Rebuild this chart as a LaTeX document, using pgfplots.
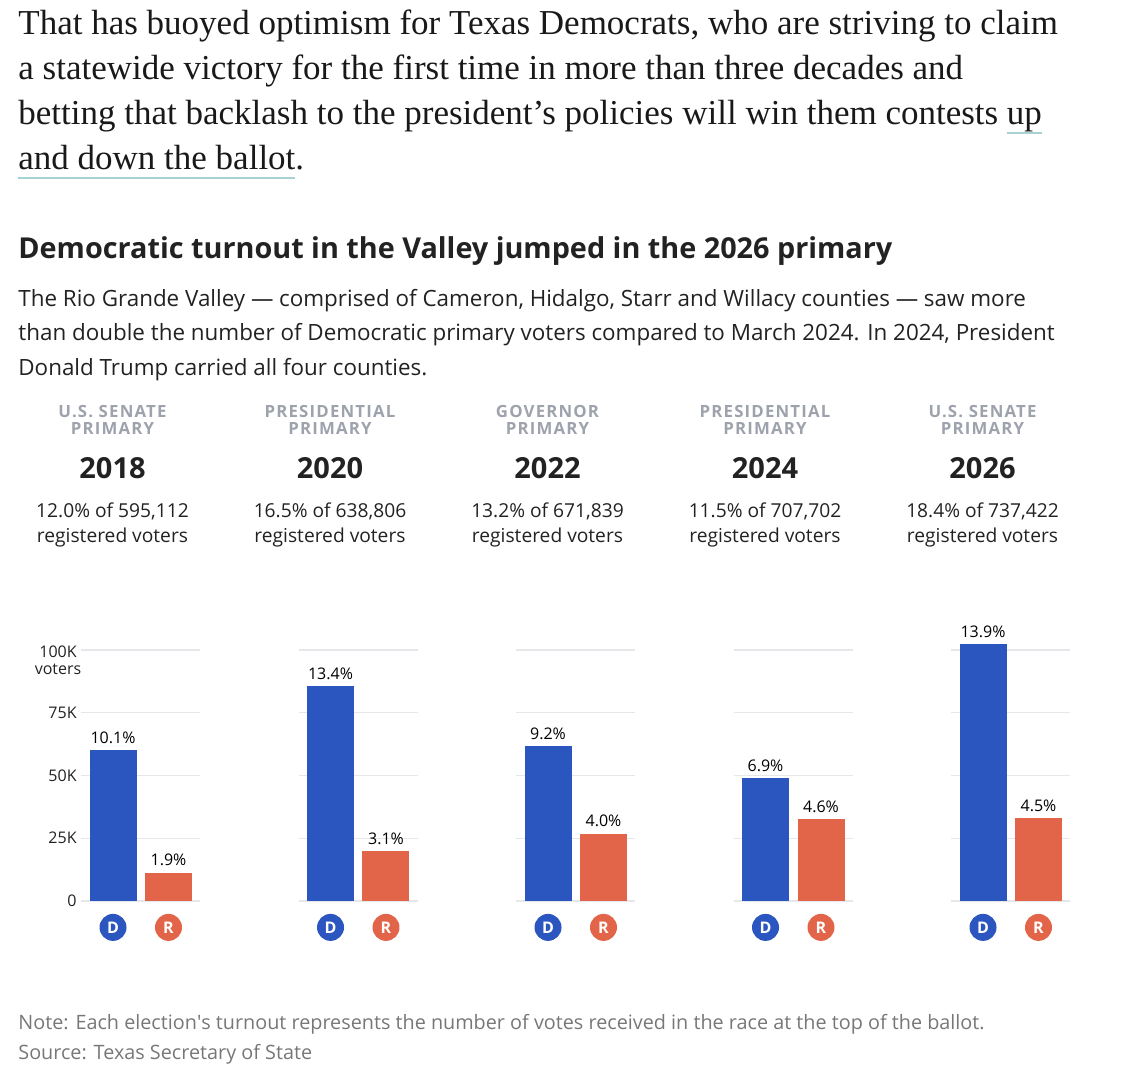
\documentclass[border=0pt]{standalone}
\usepackage{fontspec}
\setmainfont{Open Sans}
\newfontfamily\serif{Liberation Serif}
\usepackage{pgfplots}
\pgfplotsset{compat=1.18}

\definecolor{dem}{HTML}{2B55BF}
\definecolor{rep}{HTML}{E2654A}
\definecolor{hdgray}{HTML}{9EA2AC}
\definecolor{gridc}{HTML}{E6E7EA}
\definecolor{txt}{HTML}{222222}
\definecolor{notec}{HTML}{777777}
\definecolor{ulc}{HTML}{A6D2D2}

% party badge used as x tick label
\newcommand\pty[2]{\tikz\node[circle,fill=#1,text=white,inner sep=0pt,minimum size=13.5pt,anchor=center,
  font=\bfseries\fontsize{8}{8}\selectfont]{#2};}
% underline in link colour
\newcommand\ul[1]{\setbox0\hbox{#1}\rlap{\color{ulc}\rule[-4.5pt]{\wd0}{1pt}}\box0}

% panel header: x, line1, line2, year, share, registered
\newcommand\header[6]{%
  \node[anchor=base,text=hdgray,font=\bfseries\fontsize{8.4}{8.4}\selectfont\addfontfeature{LetterSpace=7}] at (#1,650) {#2};
  \node[anchor=base,text=hdgray,font=\bfseries\fontsize{8.4}{8.4}\selectfont\addfontfeature{LetterSpace=7}] at (#1,633) {#3};
  \node[anchor=base,text=txt,font=\bfseries\fontsize{14.5}{14.5}\selectfont] at (#1,589) {#4};
  \node[anchor=base,text=txt,font=\fontsize{9.6}{9.6}\selectfont] at (#1,550) {#5 of #6};
  \node[anchor=base,text=txt,font=\fontsize{9.6}{9.6}\selectfont] at (#1,525) {registered voters};
}

\pgfplotsset{
  panel/.style={
    scale only axis, width=59.5pt, height=125.5pt,
    at={(#1,83.5pt)}, anchor=south west,
    xmin=-0.577, xmax=1.568, ymin=0, ymax=100000,
    clip=false,
    axis line style={draw=none},
    major tick length=0pt,
    scaled y ticks=false,
    ytick={0,25000,50000,75000,100000},
    yticklabels={},
    ymajorgrids, grid style={gridc, line width=0.6pt},
    xtick={0,1}, xticklabels={\pty{dem}{D},\pty{rep}{R}},
    xticklabel style={anchor=north, inner sep=0pt, yshift=-6.25pt},
    ybar, bar width=23.5pt, bar shift=0pt,
    point meta=explicit symbolic,
    nodes near coords,
    every node near coord/.append style={font=\fontsize{8}{8}\selectfont, text=black,
      inner sep=0pt, anchor=south, yshift=3pt},
  },
}

\begin{document}
\begin{tikzpicture}[x=0.5pt,y=0.5pt]
\path[use as bounding box] (0,0) rectangle (1122,1068);

% article paragraph
\begin{scope}[every node/.style={anchor=base west, inner sep=0pt, text=black!90,
    font=\serif\fontsize{17.5}{17.5}\selectfont}]
\node at (18,1033) {That has buoyed optimism for Texas Democrats, who are striving to claim};
\node at (18,988) {a statewide victory for the first time in more than three decades and};
\node at (18,943) {betting that backlash to the president’s policies will win them contests \ul{up}};
\node at (18,898) {\ul{and down the ballot}.};
\end{scope}

% title and dek
\node[anchor=base west, inner sep=0pt, text=txt, font=\bfseries\fontsize{14.4}{14.4}\selectfont]
  at (18,809) {Democratic turnout in the Valley jumped in the 2026 primary};
\begin{scope}[every node/.style={anchor=base west, inner sep=0pt, text=txt,
    font=\fontsize{11.2}{11.2}\selectfont}]
\node at (18,761) {The Rio Grande Valley — comprised of Cameron, Hidalgo, Starr and Willacy counties — saw more};
\node at (18,727) {than double the number of Democratic primary voters compared to March 2024. In 2024, President};
\node at (18,692) {Donald Trump carried all four counties.};
\end{scope}

\header{112.5}{U.S. SENATE}{PRIMARY}{2018}{12.0\%}{595,112}
\header{330}{PRESIDENTIAL}{PRIMARY}{2020}{16.5\%}{638,806}
\header{547.5}{GOVERNOR}{PRIMARY}{2022}{13.2\%}{671,839}
\header{765}{PRESIDENTIAL}{PRIMARY}{2024}{11.5\%}{707,702}
\header{982.5}{U.S. SENATE}{PRIMARY}{2026}{18.4\%}{737,422}

% 2018
\begin{axis}[panel=40.5pt,
  yticklabels={0,25K,50K,75K,{}},
  yticklabel style={anchor=east, inner sep=0pt, xshift=-2pt, text=txt, font=\fontsize{8}{8}\selectfont}]
\addplot[fill=dem, draw=none] coordinates {(0,60106) [10.1\%]};
\addplot[fill=rep, draw=none] coordinates {(1,11307) [1.9\%]};
\end{axis}
\node[anchor=base, inner sep=0pt, text=txt, font=\fontsize{8}{8}\selectfont] at (58,410) {100K};
\node[anchor=base, inner sep=0pt, text=txt, font=\fontsize{8}{8}\selectfont] at (58,393) {voters};

% 2020
\begin{axis}[panel=149.25pt]
\addplot[fill=dem, draw=none] coordinates {(0,85600) [13.4\%]};
\addplot[fill=rep, draw=none] coordinates {(1,19803) [3.1\%]};
\end{axis}

% 2022
\begin{axis}[panel=258pt]
\addplot[fill=dem, draw=none] coordinates {(0,61809) [9.2\%]};
\addplot[fill=rep, draw=none] coordinates {(1,26874) [4.0\%]};
\end{axis}

% 2024
\begin{axis}[panel=366.75pt]
\addplot[fill=dem, draw=none] coordinates {(0,48831) [6.9\%]};
\addplot[fill=rep, draw=none] coordinates {(1,32554) [4.6\%]};
\end{axis}

% 2026
\begin{axis}[panel=475.5pt]
\addplot[fill=dem, draw=none] coordinates {(0,102502) [13.9\%]};
\addplot[fill=rep, draw=none] coordinates {(1,33184) [4.5\%]};
\end{axis}

% note and source
\begin{scope}[every node/.style={anchor=base west, inner sep=0pt, text=notec,
    font=\fontsize{9.9}{9.9}\selectfont}]
\node at (18,38) {Note: Each election\textquotesingle s turnout represents the number of votes received in the race at the top of the ballot.};
\node at (18,8) {Source: Texas Secretary of State};
\end{scope}
\end{tikzpicture}
\end{document}
